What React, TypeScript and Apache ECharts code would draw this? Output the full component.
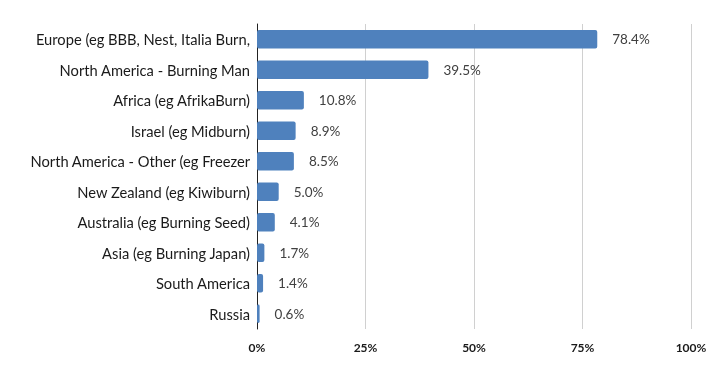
import React, { useEffect, useRef } from "react";
import * as echarts from "echarts";

const categories = [
  "Europe (eg BBB, Nest, Italia Burn,",
  "North America - Burning Man",
  "Africa (eg AfrikaBurn)",
  "Israel (eg Midburn)",
  "North America - Other (eg Freezer",
  "New Zealand (eg Kiwiburn)",
  "Australia (eg Burning Seed)",
  "Asia (eg Burning Japan)",
  "South America",
  "Russia",
];
const values = [78.4, 39.5, 10.8, 8.9, 8.5, 5.0, 4.1, 1.7, 1.4, 0.6];
const FONT = "Lato, 'Open Sans', sans-serif";

export default function App() {
  const ref = useRef<HTMLDivElement>(null);
  useEffect(() => {
    if (!ref.current) return;
    const chart = echarts.init(ref.current, null, { renderer: "svg" });
    chart.setOption({
      animation: false,
      grid: { left: 257, right: 19, top: 24, bottom: 42 },
      xAxis: {
        type: "value",
        min: 0,
        max: 100,
        interval: 25,
        axisLine: { show: false },
        axisTick: { show: false },
        splitLine: { show: true, lineStyle: { color: "#d0d0d0", width: 1 } },
        axisLabel: {
          formatter: "{value}%",
          color: "#1a1a1a",
          fontFamily: FONT,
          fontSize: 12,
          fontWeight: "bold",
          margin: 12,
        },
      },
      yAxis: {
        type: "category",
        inverse: true,
        data: categories,
        axisLine: { show: true, lineStyle: { color: "#222", width: 1 } },
        axisTick: { show: false },
        axisLabel: {
          color: "#1a1a1a",
          fontFamily: FONT,
          fontSize: 14.7,
          margin: 7,
        },
      },
      series: [
        {
          type: "bar",
          data: values,
          barWidth: "60%",
          itemStyle: { color: "#4f81bd", borderRadius: 2 },
          label: {
            show: true,
            position: "right",
            distance: 15,
            formatter: (p: any) => p.value.toFixed(1) + "%",
            color: "#404040",
            fontFamily: FONT,
            fontSize: 13.5,
          },
        },
      ],
    });
    return () => chart.dispose();
  }, []);
  return (
    <div
      ref={ref}
      style={{ position: "fixed", left: 0, top: 0, width: 710, height: 371 }}
    />
  );
}
